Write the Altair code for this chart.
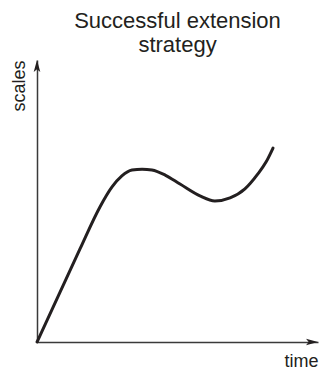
import altair as alt
import pandas as pd

# curve values (time, scales) in abstract units 0..100
time_vals = [0, 8.2, 15.3, 22.4, 26.7, 30.2, 33.8, 37.4, 40.9, 45.6, 50.9, 58.0, 63.3, 68.7, 74.0, 78.6, 81.5, 84.0]
scale_vals = [0, 17.7, 33.0, 47.9, 55.0, 58.9, 61.0, 61.3, 61.0, 59.2, 56.0, 51.8, 50.0, 51.1, 54.3, 59.6, 63.8, 68.8]

title_lines = ["Successful extension", "strategy"]
x_title = "time"
y_title = "scales"

ink = "#231f20"
axis_col = "#3a3a3a"
font = "Liberation Sans"

curve = pd.DataFrame({"t": time_vals, "s": scale_vals})

xs = alt.Scale(domain=[0, 100], nice=False, zero=False)
ys = alt.Scale(domain=[0, 100], nice=False, zero=False)

x_axis = alt.Axis(title=x_title, domain=True, domainColor=axis_col, domainWidth=1.5,
                  ticks=False, labels=False, grid=False, titleAnchor="end",
                  titleFont=font, titleFontSize=18, titleFontWeight="normal",
                  titleColor=ink, titlePadding=10)
y_axis = alt.Axis(title=y_title, domain=True, domainColor=axis_col, domainWidth=1.5,
                  ticks=False, labels=False, grid=False, titleAnchor="end",
                  titleFont=font, titleFontSize=18, titleFontWeight="normal",
                  titleColor=ink, titlePadding=13, titleBaseline="alphabetic")

line = alt.Chart(curve).mark_line(color=ink, strokeWidth=3, interpolate="monotone",
                                  strokeCap="round").encode(
    x=alt.X("t:Q", scale=xs, axis=x_axis),
    y=alt.Y("s:Q", scale=ys, axis=y_axis),
)

arrow_path = "M0,-1 L0.55,1 L0,0.55 L-0.55,1 Z"
arrows = pd.DataFrame({"x": [0, 100], "y": [100, 0]})

up = alt.Chart(arrows.iloc[[0]]).mark_point(shape=arrow_path, size=144, filled=True,
                                            color=ink, opacity=1, yOffset=6, strokeWidth=0).encode(
    x=alt.X("x:Q", scale=xs), y=alt.Y("y:Q", scale=ys))
right = alt.Chart(arrows.iloc[[1]]).mark_point(shape=arrow_path, size=144, filled=True,
                                               color=ink, opacity=1, xOffset=-6, angle=90,
                                               strokeWidth=0).encode(
    x=alt.X("x:Q", scale=xs), y=alt.Y("y:Q", scale=ys))

chart = alt.layer(line, up, right).properties(
    width=281, height=282,
    title=alt.TitleParams(text=title_lines, font=font, fontSize=22, fontWeight="normal",
                          color=ink, anchor="middle", lineHeight=24, offset=3),
    padding={"left": 37, "top": 60, "right": 2, "bottom": 27},
    autosize=alt.AutoSizeParams(type="none"),
).configure_view(stroke=None)

chart.save("out.html", embed_options={"renderer": "svg", "actions": False})
